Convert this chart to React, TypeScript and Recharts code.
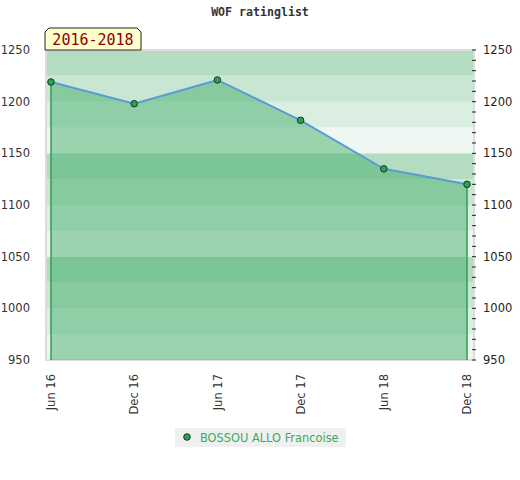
import React from 'react'
import { ComposedChart, Area, Line, XAxis, YAxis, ReferenceArea, ReferenceLine } from 'recharts'

const periods = ['Jun 16', 'Dec 16', 'Jun 17', 'Dec 17', 'Jun 18', 'Dec 18']
const ratings = [1219, 1198, 1221, 1182, 1135, 1120]
const playerName = 'BOSSOU ALLO Francoise'
const rangeLabel = '2016-2018'
const chartTitle = 'WOF ratinglist'
const bandEdges = [950, 975, 1000, 1025, 1050, 1075, 1100, 1125, 1150, 1175, 1200, 1225, 1250]
const rightTicks = [950, 960, 970, 980, 990, 1000, 1010, 1020, 1030, 1040, 1050, 1060, 1070, 1080, 1090, 1100, 1110, 1120, 1130, 1140, 1150, 1160, 1170, 1180, 1190, 1200, 1210, 1220, 1230, 1240, 1250]
const leftTicks = [950, 1000, 1050, 1100, 1150, 1200, 1250]

// cycle of 4 shades, top band of each 100 block is the darkest
const BAND_COLORS = ['#eff7f2', '#dbeee2', '#c8e6d2', '#b3dcc1']

const data = periods.map((p, i) => ({ idx: i, period: p, rating: ratings[i] }))
const lastIdx = periods.length - 1

const RightTick = ({ x, y, payload }: any) => {
  const major = payload.value % 50 === 0
  return (
    <g>
      <line x1={x - 10} x2={x - 6} y1={y} y2={y} stroke="#222" strokeWidth={1} />
      {major && (
        <text x={x + 1} y={y} dy={4} fontSize={11.5} fill="#222" fontFamily="DejaVu Sans">
          {payload.value}
        </text>
      )}
    </g>
  )
}

const Dot = ({ cx, cy }: any) => (
  <circle cx={cx} cy={cy} r={3.3} fill="#2e9e55" stroke="#1a3a22" strokeWidth={1} />
)

export default function App() {
  return (
    <div style={{ position: 'absolute', left: 0, top: 0, width: 520, height: 480, background: '#fff', fontFamily: 'DejaVu Sans' }}>
      <div style={{ position: 'absolute', left: 0, top: 5, width: 520, textAlign: 'center', fontFamily: 'DejaVu Sans Mono', fontWeight: 'bold', fontSize: 11.6, color: '#333' }}>
        {chartTitle}
      </div>
      <ComposedChart width={520} height={480} data={data} margin={{ top: 50, right: 0, bottom: 0, left: 0 }}>
        {bandEdges.slice(0, -1).map((y1, i) => (
          <ReferenceArea key={y1} yAxisId="left" y1={y1} y2={bandEdges[i + 1]} fill={BAND_COLORS[i % 4]} fillOpacity={1} stroke="none" />
        ))}
        <ReferenceArea yAxisId="left" y1={950} y2={1250} fill="none" stroke="#dcdcdc" strokeWidth={2} />
        <XAxis
          dataKey="idx"
          type="number"
          domain={[-0.06, 5.084]}
          allowDataOverflow
          ticks={periods.map((_, i) => i)}
          tickFormatter={(i) => periods[i]}
          height={120}
          interval={0}
          angle={-90}
          textAnchor="end"
          tick={{ fontSize: 11.5, fill: '#333', dx: -4 }}
          tickLine={false}
          axisLine={false}
          tickMargin={8}
        />
        <YAxis
          yAxisId="left"
          width={46}
          domain={[950, 1250]}
          ticks={leftTicks}
          tick={{ fontSize: 11.5, fill: '#333' }}
          tickLine={false}
          axisLine={false}
          tickMargin={10}
        />
        <YAxis
          yAxisId="right"
          orientation="right"
          width={46}
          domain={[950, 1250]}
          ticks={rightTicks}
          interval={0}
          tick={<RightTick />}
          tickLine={false}
          axisLine={false}
        />
        <ReferenceLine yAxisId="left" segment={[{ x: 0, y: 950 }, { x: 0, y: ratings[0] }]} stroke="#2e9e55" strokeWidth={1.5} />
        <ReferenceLine yAxisId="left" segment={[{ x: lastIdx, y: 950 }, { x: lastIdx, y: ratings[lastIdx] }]} stroke="#2e9e55" strokeWidth={1.5} />
        <Area
          yAxisId="left"
          type="linear"
          dataKey="rating"
          stroke="#5b9bd5"
          strokeWidth={2}
          fill="#3fac66"
          fillOpacity={0.48}
          dot={<Dot />}
          activeDot={false}
          isAnimationActive={false}
          baseValue={950}
        />
        <Line yAxisId="right" dataKey="rating" stroke="none" dot={false} activeDot={false} isAnimationActive={false} />
      </ComposedChart>
      <svg style={{ position: 'absolute', left: 44, top: 27 }} width={100} height={25}>
        <polygon points="1,5 5,1 93,1 97,5 97,23 1,23" fill="#ffffcc" stroke="#222" strokeWidth={1} />
        <text x={49} y={18} textAnchor="middle" fontSize={15} fill="#8b0000" fontFamily="DejaVu Sans Mono">{rangeLabel}</text>
      </svg>
      <div style={{ position: 'absolute', left: 175, top: 428, width: 171, height: 19, background: '#f0f0f0', display: 'flex', alignItems: 'center' }}>
        <svg width={24} height={19}>
          <circle cx={12} cy={9} r={3.3} fill="#2e9e55" stroke="#1a3a22" strokeWidth={1} />
        </svg>
        <span style={{ fontSize: 11.4, color: '#3aaa5c', marginLeft: 1 }}>{playerName}</span>
      </div>
    </div>
  )
}
